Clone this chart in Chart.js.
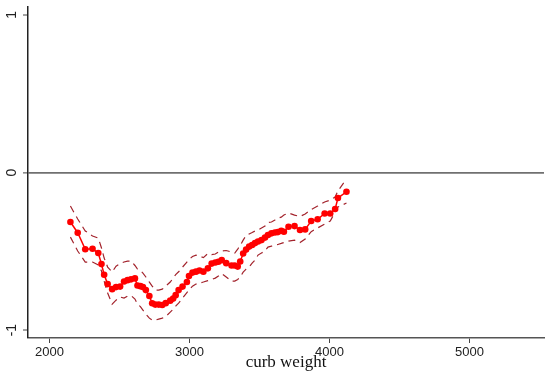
<!DOCTYPE html>
<html>
<head>
<meta charset="utf-8">
<script src="https://cdn.jsdelivr.net/npm/chart.js@4/dist/chart.umd.min.js"></script>
<style>
  html, body { margin: 0; padding: 0; background: #fff; }
  #wrap { width: 548px; height: 371px; }
</style>
</head>
<body>
<div id="wrap"><canvas id="chart" width="548" height="371"></canvas></div>
<script>
// curb weight values
const weight = [2149, 2201, 2255, 2307, 2348, 2371, 2390, 2415, 2447, 2475,
  2504, 2532, 2557, 2582, 2610, 2628, 2649, 2667, 2688, 2713,
  2733, 2755, 2780, 2805, 2830, 2862, 2883, 2901, 2922, 2950,
  2981, 2996, 3021, 3046, 3071, 3099, 3131, 3158, 3184, 3206,
  3230, 3262, 3300, 3323, 3344, 3362, 3383, 3404, 3426, 3447,
  3468, 3489, 3514, 3539, 3560, 3585, 3610, 3631, 3655, 3674,
  3707, 3750, 3789, 3826, 3869, 3915, 3965, 4005, 4040, 4060, 4121];

// estimate
const est = [-0.314, -0.382, -0.487, -0.484, -0.511, -0.581, -0.649, -0.708, -0.740, -0.727,
  -0.724, -0.692, -0.683, -0.678, -0.672, -0.717, -0.721, -0.727, -0.746, -0.784,
  -0.830, -0.838, -0.838, -0.841, -0.829, -0.813, -0.800, -0.778, -0.746, -0.724,
  -0.695, -0.657, -0.635, -0.629, -0.622, -0.629, -0.608, -0.578, -0.571, -0.566,
  -0.556, -0.575, -0.590, -0.590, -0.597, -0.565, -0.514, -0.489, -0.470, -0.460,
  -0.448, -0.438, -0.429, -0.413, -0.397, -0.386, -0.381, -0.378, -0.370, -0.376,
  -0.344, -0.340, -0.365, -0.361, -0.308, -0.297, -0.260, -0.260, -0.232, -0.162, -0.122];

// upper confidence band
const upper = [-0.213, -0.295, -0.371, -0.403, -0.416, -0.479, -0.543, -0.600, -0.632, -0.594,
  -0.578, -0.568, -0.562, -0.562, -0.590, -0.613, -0.622, -0.638, -0.663, -0.695,
  -0.721, -0.746, -0.746, -0.740, -0.721, -0.695, -0.670, -0.648, -0.630, -0.600,
  -0.568, -0.552, -0.533, -0.524, -0.530, -0.540, -0.514, -0.521, -0.517, -0.505,
  -0.498, -0.495, -0.505, -0.511, -0.486, -0.463, -0.429, -0.400, -0.390, -0.381,
  -0.371, -0.365, -0.352, -0.340, -0.317, -0.314, -0.302, -0.289, -0.283, -0.270,
  -0.257, -0.270, -0.279, -0.263, -0.235, -0.213, -0.187, -0.175, -0.156, -0.117, -0.041];

// lower confidence band
const lower = [-0.410, -0.498, -0.568, -0.568, -0.587, -0.625, -0.689, -0.765, -0.835, -0.810,
  -0.790, -0.797, -0.784, -0.781, -0.803, -0.835, -0.851, -0.873, -0.898, -0.924,
  -0.937, -0.937, -0.930, -0.924, -0.914, -0.886, -0.867, -0.848, -0.829, -0.797,
  -0.762, -0.746, -0.721, -0.708, -0.702, -0.695, -0.686, -0.679, -0.670, -0.657,
  -0.641, -0.663, -0.689, -0.689, -0.679, -0.663, -0.632, -0.613, -0.600, -0.575,
  -0.556, -0.524, -0.511, -0.498, -0.473, -0.467, -0.460, -0.457, -0.450, -0.444,
  -0.435, -0.429, -0.444, -0.422, -0.375, -0.352, -0.327, -0.308, -0.251, -0.219, -0.194];

const xTicks = [2000, 3000, 4000, 5000];
const yTicks = [-1, 0, 1];

function pts(ys) {
  return weight.map((w, i) => ({ x: w, y: ys[i] }));
}

const band = {
  showLine: true,
  borderColor: '#a3232c',
  borderWidth: 1.2,
  borderDash: [7, 5],
  pointRadius: 0,
  fill: false,
  order: 2
};

const ctx = document.getElementById('chart').getContext('2d');
new Chart(ctx, {
  type: 'scatter',
  data: {
    datasets: [
      {
        data: pts(est),
        showLine: true,
        borderColor: '#ff0000',
        borderWidth: 1.5,
        backgroundColor: '#ff0000',
        pointRadius: 3.3,
        pointBorderWidth: 0,
        order: 1
      },
      Object.assign({ data: pts(upper) }, band),
      Object.assign({ data: pts(lower) }, band)
    ]
  },
  options: {
    responsive: false,
    animation: false,
    layout: { padding: { top: 7, right: 0, left: 0, bottom: 0 } },
    plugins: { legend: { display: false }, tooltip: { enabled: false } },
    scales: {
      x: {
        type: 'linear',
        min: 1846,
        max: 5532,
        afterBuildTicks: s => { s.ticks = xTicks.map(v => ({ value: v })); },
        afterFit: s => { s.height = 33; s.paddingLeft = 0; s.paddingRight = 0; },
        border: { color: '#555', width: 1.5 },
        grid: { drawOnChartArea: false, tickLength: 5, tickColor: '#444', tickWidth: 1 },
        ticks: {
          color: '#222',
          padding: 2,
          maxRotation: 0,
          callback: v => String(v),
          font: { family: 'Liberation Sans', size: 13 }
        },
        title: {
          display: true,
          text: 'curb weight',
          color: '#111',
          padding: { top: 0, bottom: -2 },
          font: { family: 'Liberation Serif', size: 17 }
        }
      },
      y: {
        type: 'linear',
        min: -1.05,
        max: 1.05,
        afterBuildTicks: s => { s.ticks = yTicks.map(v => ({ value: v })); },
        afterFit: s => { s.width = 28; s.paddingTop = 0; s.paddingBottom = 0; },
        border: { color: '#222', width: 1.5 },
        grid: {
          drawOnChartArea: true,
          tickLength: 5,
          tickColor: '#444',
          tickWidth: 1,
          color: c => (c.tick && c.tick.value === 0) ? '#707070' : 'rgba(0,0,0,0)',
          lineWidth: c => (c.tick && c.tick.value === 0) ? 1.8 : 0
        },
        ticks: {
          color: '#222',
          padding: 5,
          minRotation: 90,
          maxRotation: 90,
          crossAlign: 'center',
          callback: v => String(v),
          font: { family: 'Liberation Sans', size: 14 }
        }
      }
    }
  }
});
</script>
</body>
</html>
